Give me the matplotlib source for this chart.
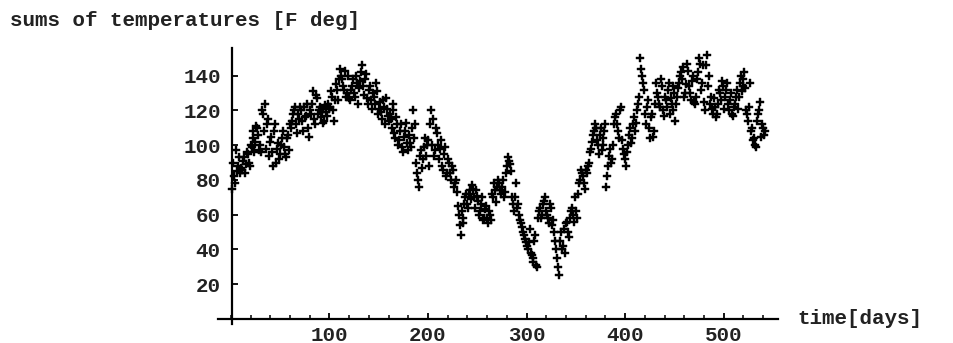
import numpy as np
import matplotlib
matplotlib.use("Agg")
import matplotlib.pyplot as plt
from matplotlib.ticker import MultipleLocator

# ---- data ----
# odd days
days_a = list(range(1, 543, 2))
temps_a = [
    75, 82, 97, 88, 84,
    86, 93, 89, 95, 88,
    99, 108, 102, 110, 97,
    96, 118, 124, 112, 94,
    105, 88, 112, 98, 92,
    100, 108, 95, 104, 97,
    110, 118, 122, 107, 115,
    120, 108, 116, 124, 105,
    118, 131, 112, 127, 120,
    116, 121, 114, 119, 124,
    122, 128, 114, 135, 126,
    144, 138, 132, 128, 140,
    126, 134, 130, 140, 124,
    137, 146, 129, 141, 124,
    134, 121, 128, 136, 118,
    125, 115, 122, 127, 117,
    118, 110, 124, 104, 112,
    103, 112, 96, 108, 101,
    106, 99, 120, 112, 84,
    76, 97, 92, 104, 100,
    88, 120, 115, 97, 107,
    92, 103, 86, 99, 84,
    90, 80, 86, 78, 73,
    60, 48, 55, 66, 72,
    64, 74, 77, 70, 74,
    68, 62, 70, 58, 65,
    55, 60, 72, 78, 67,
    80, 74, 76, 70, 84,
    93, 89, 70, 62, 78,
    66, 57, 53, 48, 44,
    40, 52, 37, 33, 48,
    30, 62, 58, 66, 70,
    60, 55, 64, 57, 45,
    35, 25, 50, 42, 38,
    56, 47, 62, 60, 70,
    58, 78, 86, 82, 75,
    84, 90, 98, 106, 112,
    103, 95, 110, 100, 108,
    76, 88, 98, 92, 112,
    118, 108, 120, 103, 95,
    88, 100, 110, 104, 116,
    113, 124, 150, 140, 132,
    112, 126, 104, 118, 108,
    136, 128, 122, 134, 117,
    126, 132, 118, 124, 134,
    114, 128, 136, 142, 145,
    130, 147, 134, 126, 140,
    124, 138, 150, 132, 146,
    120, 152, 140, 128, 118,
    122, 118, 132, 126, 134,
    128, 136, 120, 130, 117,
    124, 132, 128, 140, 134,
    142, 120, 114, 136, 110,
    104, 99, 118, 125, 112,
    106,
]
# even days
days_b = list(range(2, 544, 2))
temps_b = [
    90, 78, 85, 93, 87,
    91, 84, 96, 90, 100,
    104, 96, 111, 106, 100,
    120, 108, 98, 115, 102,
    96, 108, 90, 101, 95,
    104, 99, 93, 106, 112,
    114, 120, 112, 118, 122,
    114, 122, 117, 110, 120,
    124, 115, 129, 118, 122,
    119, 113, 123, 117, 121,
    131, 120, 126, 132, 138,
    140, 134, 143, 130, 127,
    132, 138, 128, 136, 133,
    142, 134, 138, 127, 132,
    126, 130, 124, 131, 121,
    119, 126, 112, 121, 114,
    115, 120, 107, 116, 100,
    108, 99, 105, 113, 97,
    101, 110, 104, 90, 80,
    94, 87, 99, 94, 103,
    112, 100, 94, 110, 100,
    98, 88, 95, 82, 92,
    84, 88, 76, 80, 65,
    54, 62, 58, 70, 66,
    72, 69, 75, 64, 71,
    60, 66, 57, 63, 58,
    62, 57, 70, 74, 76,
    78, 72, 80, 73, 88,
    91, 85, 66, 70, 64,
    60, 55, 50, 46, 42,
    44, 38, 35, 45, 31,
    58, 64, 60, 68, 62,
    58, 66, 54, 50, 40,
    30, 45, 40, 52, 55,
    50, 58, 64, 56, 62,
    72, 80, 84, 78, 86,
    88, 96, 102, 108, 110,
    100, 106, 97, 104, 112,
    82, 94, 90, 100, 116,
    112, 104, 122, 98, 92,
    96, 106, 101, 112, 108,
    120, 128, 144, 136, 118,
    122, 110, 116, 105, 124,
    130, 124, 138, 120, 128,
    122, 136, 127, 120, 130,
    124, 133, 140, 138, 128,
    135, 143, 130, 137, 125,
    128, 142, 147, 136, 125,
    146, 134, 124, 121, 127,
    116, 124, 130, 137, 121,
    132, 124, 126, 118, 122,
    128, 121, 136, 131, 138,
    133, 118, 122, 108, 103,
    100, 114, 120, 105, 110,
    108,
]
y_ticks = [20, 40, 60, 80, 100, 120, 140]
x_ticks = [100, 200, 300, 400, 500]
y_label = "sums of temperatures [F deg]"
x_label = "time[days]"

na = min(len(days_a), len(temps_a))
nb = min(len(days_b), len(temps_b))
days = days_a[:na] + days_b[:nb]
temps = temps_a[:na] + temps_b[:nb]

W, H = 954, 343
fig = plt.figure(figsize=(W / 100, H / 100), dpi=100)

left_px, right_px = 218, 778
top_px, bottom_px = 48, 324
ax = fig.add_axes([left_px / W, (H - bottom_px) / H,
                   (right_px - left_px) / W, (bottom_px - top_px) / H])
ax.set_xlim(-13, 555)
ax.set_ylim(-3, 156)

ax.plot(days, temps, linestyle="none", marker="P", markersize=6,
        color="black", markeredgecolor="black", markeredgewidth=0.3)

font = dict(family="Liberation Mono", weight="bold", size=15)

for s in ["top", "right"]:
    ax.spines[s].set_visible(False)
ax.spines["left"].set_position(("data", 1))
ax.spines["bottom"].set_position(("data", 0))
for s in ["left", "bottom"]:
    ax.spines[s].set_linewidth(1.6)
    ax.spines[s].set_color("black")

ax.set_xticks(x_ticks)
ax.set_yticks(y_ticks)
ax.xaxis.set_minor_locator(MultipleLocator(20))
ax.tick_params(axis="both", which="major", direction="in", length=4,
               width=1.3, colors="black", labelcolor="#222222")
ax.tick_params(axis="x", which="minor", direction="in", length=3, width=1.1)
ax.tick_params(axis="x", pad=5)
ax.tick_params(axis="y", pad=8)
for lab in ax.get_xticklabels() + ax.get_yticklabels():
    lab.set_fontfamily(font["family"])
    lab.set_fontweight(font["weight"])
    lab.set_fontsize(font["size"])

fig.text(10 / W, 1 - 20 / H, y_label, ha="left", va="center",
         color="#222222", **font)
fig.text(797 / W, 1 - 319 / H, x_label, ha="left", va="center",
         color="#222222", **font)

fig.savefig("out.png", dpi=100, facecolor="white")
